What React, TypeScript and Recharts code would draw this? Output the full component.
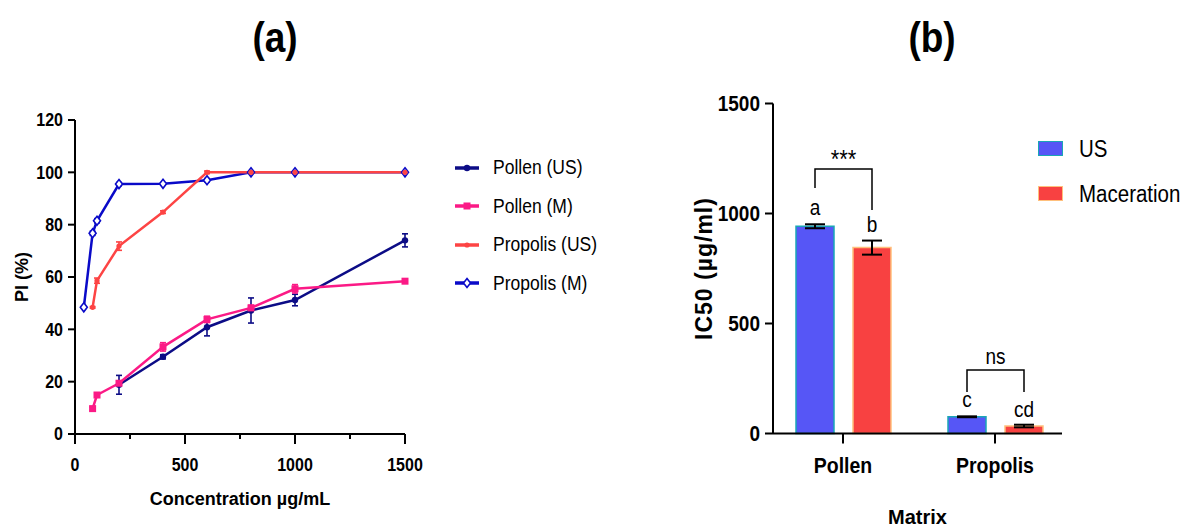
import { Bar, BarChart, ErrorBar, LabelList, Line, LineChart, XAxis, YAxis } from "recharts";

const FONT = "'Liberation Sans', Arial, Helvetica, sans-serif";
const STRETCH = { transformBox: "fill-box", transformOrigin: "center", transform: "scaleY(1.14)" } as any;

// (a) percent inhibition vs concentration
const concTicks = [0, 250, 500, 750, 1000, 1250, 1500];
const piTicks = [0, 20, 40, 60, 80, 100, 120];

const pollenUsConc = [200, 400, 600, 800, 1000, 1500];
const pollenUsPi = [18.8, 29.5, 40.8, 47.2, 51.2, 74];
const pollenUsErr = [3.6, 0.8, 3.3, 4.8, 2.2, 2.5];

const pollenMConc = [80, 100, 200, 400, 600, 800, 1000, 1500];
const pollenMPi = [9.7, 14.9, 19.4, 33.3, 43.8, 48.2, 55.5, 58.4];
const pollenMErr = [0.6, 0.8, 0.5, 1.6, 1.2, 1, 1.6, 0.6];

const propolisUsConc = [80, 100, 200, 400, 600, 800, 1000, 1500];
const propolisUsPi = [48.4, 58.6, 71.8, 84.8, 100, 100, 100, 100];
const propolisUsErr = [0.3, 1, 1.6, 0.5, 0.5, 0.2, 0.2, 0.2];

const propolisMConc = [40, 80, 100, 200, 400, 600, 800, 1000, 1500];
const propolisMPi = [48.4, 76.7, 81.5, 95.5, 95.6, 97, 100, 100, 100];
const propolisMErr = [0.3, 0.8, 0.8, 0.6, 0.4, 0.6, 0.2, 0.2, 0.2];

// (b) IC50 by matrix
const matrices = ["Pollen", "Propolis"];
const usIc50 = [942, 76];
const usErr = [9, 2];
const macIc50 = [845, 34];
const macErr = [32, 6];
const usLetters = ["a", "c"];
const macLetters = ["b", "cd"];
const sigText = ["***", "ns"];
const bracketTop = [1202, 289];
const bracketUsEnd = [1116, 189];
const bracketMacEnd = [1016, 189];

const BAR_SIZE = 38;
const BAR_GAP = 19;

const toPoints = (conc: number[], pi: number[], err: number[]) =>
  conc.map((c, i) => ({ conc: c, pi: pi[i], err: err[i] }));

type MarkerKind = "circle" | "square" | "dot" | "diamond";

const lineSeries: { name: string; color: string; marker: MarkerKind; data: ReturnType<typeof toPoints> }[] = [
  { name: "Pollen (US)", color: "#0c0c86", marker: "circle", data: toPoints(pollenUsConc, pollenUsPi, pollenUsErr) },
  { name: "Pollen (M)", color: "#fb1a86", marker: "square", data: toPoints(pollenMConc, pollenMPi, pollenMErr) },
  { name: "Propolis (US)", color: "#fd4444", marker: "dot", data: toPoints(propolisUsConc, propolisUsPi, propolisUsErr) },
  { name: "Propolis (M)", color: "#0a0ac8", marker: "diamond", data: toPoints(propolisMConc, propolisMPi, propolisMErr) },
];
// lines are stroked in this order (red propolis line sits over the blue one), symbols go on top afterwards
const lineOrder = [0, 1, 3, 2];

const barRows = matrices.map((m, i) => ({
  matrix: m,
  us: usIc50[i],
  usErr: usErr[i],
  mac: macIc50[i],
  macErr: macErr[i],
}));

function Marker({ cx, cy, kind, color }: { cx: number; cy: number; kind: MarkerKind; color: string }) {
  if (kind === "square") return <rect x={cx - 3.5} y={cy - 3.5} width={7} height={7} fill={color} />;
  if (kind === "diamond")
    return (
      <path
        d={`M${cx},${cy - 4.5}L${cx + 3.5},${cy}L${cx},${cy + 4.5}L${cx - 3.5},${cy}Z`}
        fill="#fff"
        stroke={color}
        strokeWidth={1.6}
      />
    );
  return <circle cx={cx} cy={cy} r={kind === "circle" ? 3.2 : 2.6} fill={color} />;
}

function ConcTick(props: any) {
  const { x, y, payload } = props;
  const major = payload.value % 500 === 0;
  return (
    <g>
      <line x1={x} x2={x} y1={y} y2={y + (major ? 10 : 5)} stroke="#000" strokeWidth={2} />
      {major && (
        <text
          x={x}
          y={y + 36.5}
          textAnchor="middle"
          fontFamily={FONT}
          fontSize={16}
          fontWeight={700}
          fill="#000"
          style={STRETCH}
        >
          {payload.value}
        </text>
      )}
    </g>
  );
}

function ValueTick(props: any) {
  const { x, y, payload, size } = props;
  return (
    <text
      x={x}
      y={y}
      dy="0.355em"
      textAnchor="end"
      fontFamily={FONT}
      fontSize={size}
      fontWeight={700}
      fill="#000"
      style={STRETCH}
    >
      {payload.value}
    </text>
  );
}

function MatrixTick(props: any) {
  const { x, y, payload } = props;
  return (
    <text
      x={x}
      y={y}
      dy="0.71em"
      textAnchor="middle"
      fontFamily={FONT}
      fontSize={19.5}
      fontWeight={700}
      fill="#000"
      style={STRETCH}
    >
      {payload.value}
    </text>
  );
}

function UsLabels(props: any) {
  const { x, y, width, height, value, index } = props;
  const k = height / value;
  const base = y + height;
  const cx = x + width / 2;
  const rx = cx + width + BAR_GAP;
  const toY = (v: number) => base - v * k;
  return (
    <g fontFamily={FONT} fill="#000">
      <text x={cx} y={toY(usIc50[index] + usErr[index]) - 10} textAnchor="middle" fontSize={19} style={STRETCH}>
        {usLetters[index]}
      </text>
      <path
        d={`M${cx},${toY(bracketUsEnd[index])}V${toY(bracketTop[index])}H${rx}V${toY(bracketMacEnd[index])}`}
        fill="none"
        stroke="#000"
        strokeWidth={1.5}
      />
      <text
        x={(cx + rx) / 2}
        y={toY(bracketTop[index]) - (index === 0 ? 2 : 7)}
        textAnchor="middle"
        fontSize={index === 0 ? 22 : 19}
        style={STRETCH}
      >
        {sigText[index]}
      </text>
    </g>
  );
}

function MacLabels(props: any) {
  const { x, y, width, height, value, index } = props;
  const k = height / value;
  const base = y + height;
  return (
    <text
      x={x + width / 2}
      y={base - (macIc50[index] + macErr[index]) * k - 9}
      textAnchor="middle"
      fontFamily={FONT}
      fontSize={19}
      fill="#000"
      style={STRETCH}
    >
      {macLetters[index]}
    </text>
  );
}

const axisStroke = { stroke: "#000", strokeWidth: 2 };

function PanelA() {
  return (
    <LineChart width={600} height={529} margin={{ top: 120, right: 195, bottom: 0, left: 0 }}>
      <XAxis
        type="number"
        dataKey="conc"
        domain={[0, 1500]}
        ticks={concTicks}
        interval={0}
        height={95}
        axisLine={axisStroke}
        tickLine={false}
        tickSize={0}
        tickMargin={0}
        tick={<ConcTick />}
        label={{
          value: "Concentration µg/mL",
          position: "insideBottom",
          offset: 24,
          style: { fontFamily: FONT, fontSize: 18, fontWeight: 700, fill: "#000" },
        }}
      />
      <YAxis
        type="number"
        domain={[0, 120]}
        ticks={piTicks}
        interval={0}
        width={75}
        axisLine={axisStroke}
        tickLine={axisStroke}
        tickSize={7}
        tickMargin={5}
        tick={<ValueTick size={16} />}
        label={{
          value: "PI (%)",
          angle: -90,
          position: "insideLeft",
          offset: 22,
          style: { textAnchor: "middle", fontFamily: FONT, fontSize: 18, fontWeight: 700, fill: "#000" },
        }}
      />
      {lineOrder.map((i) => {
        const s = lineSeries[i];
        return (
          <Line
            key={`line-${s.name}`}
            data={s.data}
            dataKey="pi"
            name={s.name}
            stroke={s.color}
            strokeWidth={2.5}
            isAnimationActive={false}
            dot={false}
            activeDot={false}
          >
            <ErrorBar dataKey="err" direction="y" width={3} stroke={s.color} strokeWidth={1.6} />
          </Line>
        );
      })}
      {lineOrder.map((i) => {
        const s = lineSeries[i];
        return (
          <Line
            key={`dots-${s.name}`}
            data={s.data}
            dataKey="pi"
            name={`${s.name} symbols`}
            stroke="none"
            legendType="none"
            isAnimationActive={false}
            dot={(p: any) => <Marker key={`${s.name}-${p.index}`} cx={p.cx} cy={p.cy} kind={s.marker} color={s.color} />}
            activeDot={false}
          />
        );
      })}
    </LineChart>
  );
}

function PanelB() {
  return (
    <BarChart
      width={584}
      height={529}
      data={barRows}
      margin={{ top: 103.5, right: 122, bottom: 0, left: 0 }}
      barSize={BAR_SIZE}
      barGap={BAR_GAP}
    >
      <XAxis
        dataKey="matrix"
        height={95.5}
        padding={{ left: -6, right: -9 }}
        axisLine={axisStroke}
        tickLine={axisStroke}
        tickSize={10}
        tickMargin={15}
        tick={<MatrixTick />}
        label={{
          value: "Matrix",
          position: "insideBottom",
          offset: 5,
          style: { fontFamily: FONT, fontSize: 20, fontWeight: 700, fill: "#000" },
        }}
      />
      <YAxis
        type="number"
        domain={[0, 1500]}
        ticks={[0, 500, 1000, 1500]}
        interval={0}
        width={173}
        axisLine={axisStroke}
        tickLine={axisStroke}
        tickSize={8}
        tickMargin={5}
        tick={<ValueTick size={19} />}
        label={{
          value: "IC50 (µg/ml)",
          angle: -90,
          position: "insideLeft",
          offset: 104,
          style: { textAnchor: "middle", fontFamily: FONT, fontSize: 23, fontWeight: 700, fill: "#000", letterSpacing: 1 },
        }}
      />
      <Bar dataKey="us" name="US" fill="#5656f6" stroke="#1aa6b6" strokeWidth={1.5} isAnimationActive={false}>
        <ErrorBar dataKey="usErr" direction="y" width={10} stroke="#000" strokeWidth={2} />
        <LabelList dataKey="us" content={<UsLabels />} />
      </Bar>
      <Bar dataKey="mac" name="Maceration" fill="#f84141" stroke="#ffc07c" strokeWidth={1.5} isAnimationActive={false}>
        <ErrorBar dataKey="macErr" direction="y" width={10} stroke="#000" strokeWidth={2} />
        <LabelList dataKey="mac" content={<MacLabels />} />
      </Bar>
    </BarChart>
  );
}

const barLegend = [
  { name: "US", fill: "#5656f6", stroke: "#1aa6b6" },
  { name: "Maceration", fill: "#f84141", stroke: "#ffc07c" },
];

export default function App() {
  return (
    <div
      style={{
        position: "absolute",
        left: 0,
        top: 0,
        width: 1184,
        height: 529,
        background: "#fff",
        overflow: "hidden",
        fontFamily: FONT,
        color: "#000",
      }}
    >
      <div style={{ position: "absolute", left: 0, top: 0 }}>
        <PanelA />
      </div>
      <div style={{ position: "absolute", left: 600, top: 0 }}>
        <PanelB />
      </div>

      {[
        { text: "(a)", cx: 275 },
        { text: "(b)", cx: 932 },
      ].map((t) => (
        <div
          key={t.text}
          style={{
            position: "absolute",
            left: t.cx - 50,
            top: 13,
            width: 100,
            height: 50,
            lineHeight: "50px",
            textAlign: "center",
            fontSize: 37,
            fontWeight: 700,
            transform: "scaleY(1.15)",
          }}
        >
          {t.text}
        </div>
      ))}

      <div style={{ position: "absolute", left: 454, top: 148.5 }}>
        {lineSeries.map((s) => (
          <div key={s.name} style={{ display: "flex", alignItems: "center", height: 38.5 }}>
            <svg width={26} height={12} style={{ marginRight: 13 }}>
              <line x1={1} x2={25} y1={6} y2={6} stroke={s.color} strokeWidth={3.5} />
              <Marker cx={13} cy={6} kind={s.marker} color={s.color} />
            </svg>
            <span style={{ fontSize: 17.5, display: "inline-block", transform: "scaleY(1.14)" }}>{s.name}</span>
          </div>
        ))}
      </div>

      <div style={{ position: "absolute", left: 1038, top: 126 }}>
        {barLegend.map((b) => (
          <div key={b.name} style={{ display: "flex", alignItems: "center", height: 45 }}>
            <div
              style={{
                width: 23,
                height: 13,
                background: b.fill,
                border: `1.5px solid ${b.stroke}`,
                marginRight: 16,
              }}
            />
            <span style={{ fontSize: 20.5, display: "inline-block", transform: "scaleY(1.14)" }}>{b.name}</span>
          </div>
        ))}
      </div>
    </div>
  );
}
